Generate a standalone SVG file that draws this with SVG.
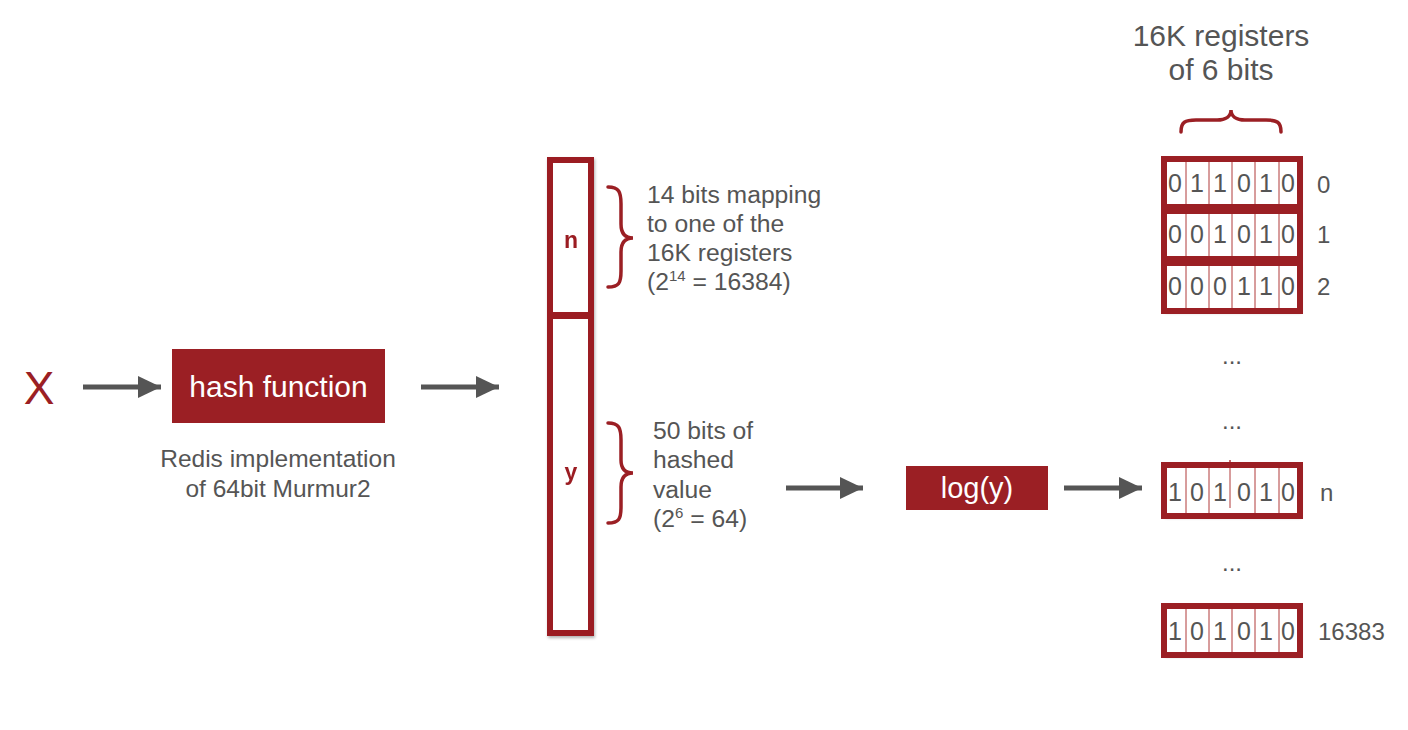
<svg xmlns="http://www.w3.org/2000/svg" width="1408" height="730" viewBox="0 0 1408 730">
<defs>
<style>
.t{font-family:"Liberation Sans",Arial,sans-serif;fill:#555}
.w{font-family:"Liberation Sans",Arial,sans-serif;fill:#fff}
.box{fill:none;stroke:#9b1f24;stroke-width:6}
.div{stroke:#b03a3a;stroke-width:1}
.dg{font-family:"Liberation Sans",Arial,sans-serif;fill:#555;font-size:25px;text-anchor:middle}
.br{fill:none;stroke:#9b1f24;stroke-width:3.5;stroke-linecap:round}
.ar{stroke:#555;stroke-width:5;fill:none}
.lab{font-family:"Liberation Sans",Arial,sans-serif;fill:#9b1f24;font-size:23px;font-weight:bold;text-anchor:middle}
</style>
<marker id="ah" markerUnits="userSpaceOnUse" markerWidth="24" markerHeight="24" refX="23" refY="11" orient="auto">
<path d="M0,0 L23,11 L0,22 Z" fill="#555"/>
</marker>
<filter id="sh" x="-10%" y="-10%" width="130%" height="130%">
<feDropShadow dx="1" dy="2" stdDeviation="1.5" flood-color="#000" flood-opacity="0.3"/>
</filter>
</defs>
<rect width="1408" height="730" fill="#fff"/>

<g id="connectors">
<line class="ar" x1="83" y1="387" x2="161" y2="387" marker-end="url(#ah)"/>
<line class="ar" x1="421" y1="387" x2="499" y2="387" marker-end="url(#ah)"/>
<line class="ar" x1="786" y1="488" x2="863" y2="488" marker-end="url(#ah)"/>
<line class="ar" x1="1064" y1="488" x2="1142" y2="488" marker-end="url(#ah)"/>
</g>

<g id="input-x">
<text x="39" y="404" font-size="46" text-anchor="middle" font-family="Liberation Sans, Arial, sans-serif" fill="#9b1f24">X</text>
</g>

<g id="hash-function">
<rect x="172" y="349" width="213" height="74" fill="#9b1f24"/>
<text class="w" x="278.5" y="397" font-size="30" text-anchor="middle">hash function</text>
<text class="t" x="278" y="467" font-size="24.5" text-anchor="middle">Redis implementation</text>
<text class="t" x="278" y="497" font-size="24.5" text-anchor="middle">of 64bit Murmur2</text>
</g>

<g id="hash-bits" filter="url(#sh)">
<rect class="box" x="550" y="316" width="41" height="317" style="fill:#fff"/>
<rect class="box" x="550" y="160" width="41" height="155" style="fill:#fff"/>
<text class="lab" x="571" y="248">n</text>
<text class="lab" x="571" y="480">y</text>
</g>

<g id="n-annotation">
<path class="br" d="M608,187 C619,187 621,192 621,204 L621,224 C621,233 625,238 633,238 C625,238 621,243 621,252 L621,271 C621,283 619,287 608,287"/>
<text class="t" x="647" y="203" font-size="24.7">14 bits mapping</text>
<text class="t" x="647" y="232" font-size="24.7">to one of the</text>
<text class="t" x="647" y="261" font-size="24.7">16K registers</text>
<text class="t" x="647" y="290" font-size="24.7">(2<tspan font-size="15" dy="-9">14</tspan><tspan dy="9"> = 16384)</tspan></text>
</g>

<g id="y-annotation">
<path class="br" d="M608,423 C619,423 621,428 621,440 L621,460 C621,469 625,473 633,473 C625,473 621,478 621,487 L621,507 C621,519 619,523 608,523"/>
<text class="t" x="653" y="439" font-size="24.7">50 bits of</text>
<text class="t" x="653" y="468" font-size="24.7">hashed</text>
<text class="t" x="653" y="498" font-size="24.7">value</text>
<text class="t" x="653" y="527" font-size="24.7">(2<tspan font-size="15" dy="-9">6</tspan><tspan dy="9"> = 64)</tspan></text>
</g>

<g id="log-y">
<rect x="906" y="466" width="142" height="44" fill="#9b1f24"/>
<text class="w" x="977" y="498" font-size="29" text-anchor="middle">log(y)</text>
</g>

<g id="registers-title">
<text class="t" x="1221" y="46" font-size="30" text-anchor="middle">16K registers</text>
<text class="t" x="1221" y="80" font-size="30" text-anchor="middle">of 6 bits</text>
<path class="br" d="M1181,132 C1181,122 1185,120 1196,120 L1217,120 C1226,120 1231,116 1231,110 C1231,116 1236,120 1245,120 L1266,120 C1277,120 1281,122 1281,132"/>
</g>

<g id="register-0">
<rect x="1164" y="159" width="136" height="48" fill="#fff" filter="url(#sh)"/>
<g class="div"><line x1="1186" y1="162" x2="1186" y2="204"/><line x1="1209" y1="162" x2="1209" y2="204"/><line x1="1232" y1="162" x2="1232" y2="204"/><line x1="1255" y1="162" x2="1255" y2="204"/><line x1="1279" y1="162" x2="1279" y2="204"/></g>
<text class="dg" y="192"><tspan x="1175">0</tspan><tspan x="1197">1</tspan><tspan x="1220">1</tspan><tspan x="1244">0</tspan><tspan x="1266">1</tspan><tspan x="1288">0</tspan></text>
<rect class="box" x="1164" y="159" width="136" height="48"/>
<text class="t" x="1317" y="193" font-size="24">0</text>
</g>

<g id="register-1">
<rect x="1164" y="211" width="136" height="48" fill="#fff" filter="url(#sh)"/>
<g class="div"><line x1="1186" y1="214" x2="1186" y2="256"/><line x1="1209" y1="214" x2="1209" y2="256"/><line x1="1232" y1="214" x2="1232" y2="256"/><line x1="1255" y1="214" x2="1255" y2="256"/><line x1="1279" y1="214" x2="1279" y2="256"/></g>
<text class="dg" y="243"><tspan x="1175">0</tspan><tspan x="1197">0</tspan><tspan x="1220">1</tspan><tspan x="1244">0</tspan><tspan x="1266">1</tspan><tspan x="1288">0</tspan></text>
<rect class="box" x="1164" y="211" width="136" height="48"/>
<text class="t" x="1317" y="243" font-size="24">1</text>
</g>

<g id="register-2">
<rect x="1164" y="263" width="136" height="48" fill="#fff" filter="url(#sh)"/>
<g class="div"><line x1="1186" y1="266" x2="1186" y2="308"/><line x1="1209" y1="266" x2="1209" y2="308"/><line x1="1232" y1="266" x2="1232" y2="308"/><line x1="1255" y1="266" x2="1255" y2="308"/><line x1="1279" y1="266" x2="1279" y2="308"/></g>
<text class="dg" y="295"><tspan x="1175">0</tspan><tspan x="1197">0</tspan><tspan x="1220">0</tspan><tspan x="1244">1</tspan><tspan x="1266">1</tspan><tspan x="1288">0</tspan></text>
<rect class="box" x="1164" y="263" width="136" height="48"/>
<text class="t" x="1317" y="295" font-size="24">2</text>
</g>

<g id="ellipses">
<text class="t" x="1232" y="364" font-size="24" text-anchor="middle">...</text>
<text class="t" x="1232" y="429" font-size="24" text-anchor="middle">...</text>
<text class="t" x="1232" y="571" font-size="24" text-anchor="middle">...</text>
</g>

<g id="register-n">
<rect x="1164" y="465" width="136" height="51" fill="#fff" filter="url(#sh)"/>
<g class="div"><line x1="1186" y1="468" x2="1186" y2="513"/><line x1="1209" y1="468" x2="1209" y2="513"/><line x1="1230" y1="460" x2="1230" y2="508"/><line x1="1255" y1="468" x2="1255" y2="513"/><line x1="1279" y1="468" x2="1279" y2="513"/></g>
<text class="dg" y="501"><tspan x="1175">1</tspan><tspan x="1197">0</tspan><tspan x="1220">1</tspan><tspan x="1244">0</tspan><tspan x="1266">1</tspan><tspan x="1288">0</tspan></text>
<rect class="box" x="1164" y="465" width="136" height="51"/>
<line class="div" x1="1230" y1="460" x2="1230" y2="462"/>
<text class="t" x="1320" y="501" font-size="24">n</text>
</g>

<g id="register-16383">
<rect x="1164" y="606" width="136" height="49" fill="#fff" filter="url(#sh)"/>
<g class="div"><line x1="1186" y1="609" x2="1186" y2="652"/><line x1="1209" y1="609" x2="1209" y2="652"/><line x1="1232" y1="609" x2="1232" y2="652"/><line x1="1255" y1="609" x2="1255" y2="652"/><line x1="1279" y1="609" x2="1279" y2="652"/></g>
<text class="dg" y="640"><tspan x="1175">1</tspan><tspan x="1197">0</tspan><tspan x="1220">1</tspan><tspan x="1244">0</tspan><tspan x="1266">1</tspan><tspan x="1288">0</tspan></text>
<rect class="box" x="1164" y="606" width="136" height="49"/>
<text class="t" x="1318" y="640" font-size="24">16383</text>
</g>
</svg>
